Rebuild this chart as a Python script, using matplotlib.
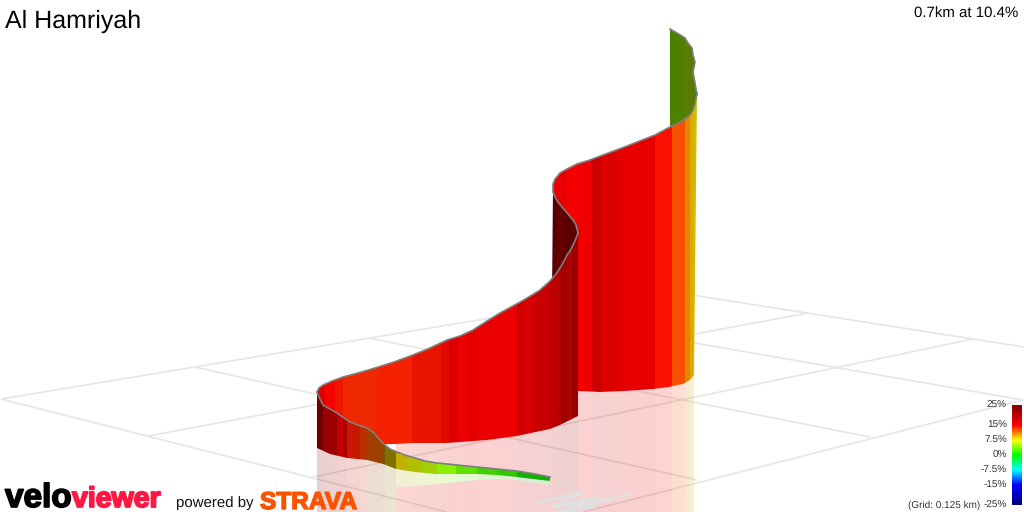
import matplotlib
matplotlib.use('Agg')
import matplotlib.pyplot as plt
import matplotlib.patheffects as pe
from matplotlib.patches import Polygon
from matplotlib.colors import LinearSegmentedColormap
import numpy as np

plt.rcParams['text.hinting'] = 'none'
plt.rcParams['text.hinting_factor'] = 1

title = 'Al Hamriyah'
summary = '0.7km at 10.4%'
grid_note = '(Grid: 0.125 km)'

# colour scale
scale_labels = ['25%', '15%', '7.5%', '0%', '-7.5%', '-15%', '-25%']
scale_values = [25, 15, 7.5, 0, -7.5, -15, -25]
scale_colors = ['#800000', '#ff0000', '#ffff00', '#00ff00', '#00ffff', '#0000ff', '#000080']

# ground grid, one (x0, y0, x1, y1) per line
grid_lines = [
    (1, 399, 660, 290), (148, 436, 808, 313), (313, 477, 973, 339), (583, 512, 1023, 400),
    (1, 399, 447, 512), (195, 367, 697, 480), (368, 338, 870, 437), (522, 313, 1023, 400),
    (660, 290, 1024, 347),
]

# route shadow on the ground
route_x = [536, 583, 552, 598, 562, 612, 572, 595, 556, 630]
route_y = [503, 492, 507, 497, 505, 499, 507, 507, 512, 494]

# green part at the back
back_x = [670, 677, 685, 688, 692, 693, 695, 693, 695, 697]
back_y = [29, 33, 38, 43, 48, 55, 62, 72, 83, 95]
back_edges = [670, 685, 688, 693, 698]
back_colors = ['#4e8000', '#5f7c00', '#5a7a00', '#468000']

# long red sheet on the right
right_top_x = [553, 553, 555, 560, 567, 577, 590, 603, 627, 655, 670, 679, 685, 690, 693, 695, 697]
right_top_y = [188, 184, 179, 173, 169, 164, 160, 155, 146, 135, 127, 123, 119, 115, 110, 104, 93]
right_base_x = [578, 600, 625, 653, 669, 683, 690, 694]
right_base_y = [391, 392, 391, 389, 387, 384, 380, 375]
right_edges = [553, 556, 567, 578, 592, 602, 607, 614, 626, 655, 672, 685, 690, 693, 698]
right_colors = ['#e80000', '#e80000', '#f80000', '#f00000', '#cc0000', '#e00000', '#d80000', '#e00000',
                '#e80000', '#fc1000', '#f85000', '#e08800', '#e0a800', '#c8c000']

# dark inside of the bend
bend_x = [553, 553, 555, 558, 562, 568, 573, 576, 578]
bend_y = [188, 192, 197, 202, 207, 214, 220, 225, 233]
bend_edges = [552, 558, 563, 572, 579]
bend_colors = ['#5a0000', '#660000', '#5a0000', '#600000']

# middle sheet, left turn to the bend
mid_top_x = [317, 319, 323, 332, 343, 358, 375, 394, 413, 430, 447, 460, 473, 487, 500, 511, 522, 532, 540, 550,
             556, 560, 564, 567, 570, 572, 575, 578]
mid_top_y = [392, 388, 385, 381, 377, 373, 368, 362, 355, 348, 340, 336, 330, 321, 313, 307, 301, 295, 290, 281,
             274, 268, 261, 255, 251, 247, 241, 233]
mid_base_x = [396, 413, 447, 487, 517, 550, 560, 578]
mid_base_y = [444, 443, 443, 440, 436, 429, 425, 416]
mid_edges = [317, 325, 335, 343, 377, 412, 441, 449, 458, 468, 476, 485, 517, 523, 533, 550, 555, 561, 567,
             572, 579]
mid_colors = ['#e00000', '#f80000', '#f01500', '#f02800', '#f42000', '#e81400', '#e00a00', '#dc0000',
              '#ec0000', '#e20000', '#ea0000', '#ea0000', '#d00000', '#d80000', '#c80000', '#c00000',
              '#b80000', '#a00000', '#b00000', '#9a0000']

# front sheet, left turn down to the end of the green ribbon
front_top_x = [317, 319, 323, 330, 337, 344, 350, 358, 367, 374, 380, 385, 390, 397, 405, 415, 425, 437, 457, 477,
               497, 517, 535, 550]
front_top_y = [392, 397, 405, 409, 413, 418, 422, 425, 428, 433, 440, 445, 449, 452, 455, 458, 461, 463, 465, 467,
               469, 471, 474, 477]
front_base_x = [317, 330, 347, 367, 383, 396, 415, 437, 457, 477, 497, 517, 550]
front_base_y = [448, 454, 458, 460, 464, 469, 472, 474, 474, 474, 475, 477, 481]
front_edges = [317, 323, 337, 343, 347, 360, 367, 382, 385, 396, 407, 421, 437, 456, 477, 497, 517, 551]
front_colors = ['#700000', '#9a0000', '#c00000', '#a80000', '#c81800', '#b83000', '#a04000', '#805000',
                '#807000', '#c0b000', '#b0c000', '#a0d000', '#88f000', '#60e000', '#40d000', '#30c800',
                '#10b000']

# lower edge of the ribbon's reflection
ribbon_refl_x = [396, 415, 437, 457, 477, 497, 517, 550]
ribbon_refl_y = [487, 486, 484, 482, 480, 479, 480, 485]

fig = plt.figure(figsize=(10.24, 5.12), dpi=100)
ax = fig.add_axes([0, 0, 1, 1])
ax.set_xlim(0, 1024)
ax.set_ylim(512, 0)
ax.axis('off')

SANS = ['Liberation Sans', 'DejaVu Sans']


def sheet(edges, colors, px, py, zorder, alpha=1.0):
    # vertical colour bands, cut to the outline of the sheet
    clip = Polygon(np.column_stack([px, py]), closed=True, transform=ax.transData)
    bars = ax.bar(edges[:-1], 512, width=np.diff(edges), bottom=0, align='edge', color=colors,
                  linewidth=0, alpha=alpha, zorder=zorder, antialiased=False)
    for b in bars:
        b.set_clip_path(clip)


for x0, y0, x1, y1 in grid_lines:
    ax.plot([x0, x1], [y0, y1], color='#e6e6e6', lw=1.2, zorder=0.5, solid_capstyle='butt')

# reflections under the sheets
REFL = 0.18
sheet(right_edges, right_colors, right_base_x + [694, 578], right_base_y + [512, 512], 1, REFL)
sheet(mid_edges, mid_colors, mid_base_x + [578, 396], mid_base_y + [512, 512], 1, REFL)
sheet(front_edges, front_colors, front_base_x[:6] + [396, 317], front_base_y[:6] + [512, 512], 1, REFL)
ax.plot(route_x, route_y, color='#e0e0e0', lw=2, zorder=1.5)
ax.fill(ribbon_refl_x + front_base_x[:4:-1], ribbon_refl_y + front_base_y[:4:-1], color='white', lw=0, zorder=5.4)
sheet(front_edges, front_colors, ribbon_refl_x + front_base_x[:4:-1], ribbon_refl_y + front_base_y[:4:-1], 5.5, REFL)

# the sheets, far to near
sheet(back_edges, back_colors, back_x + [690, 670], back_y + [140, 140], 2)
sheet(right_edges, right_colors, right_top_x + right_base_x[::-1] + [553],
      right_top_y + right_base_y[::-1] + [392], 3)
sheet(bend_edges, bend_colors, bend_x + [578, 552], bend_y + [295, 295], 4)
sheet(mid_edges, mid_colors, mid_top_x + mid_base_x[::-1] + [317], mid_top_y + mid_base_y[::-1] + [446], 5)
sheet(front_edges, front_colors, front_top_x + front_base_x[::-1], front_top_y + front_base_y[::-1], 6)

# grey line along the top of the ribbon
for tx, ty in [(back_x, back_y), (right_top_x, right_top_y), (bend_x, bend_y), (mid_top_x, mid_top_y),
               (front_top_x, front_top_y)]:
    ax.plot(tx, ty, color='#7f7f7f', lw=1.2, zorder=7, solid_joinstyle='round')

# colour bar
cmap = LinearSegmentedColormap.from_list('grade', [((v + 25) / 50, c) for v, c in zip(scale_values[::-1], scale_colors[::-1])])
ax.imshow(np.linspace(25, -25, 200)[:, None], extent=(1012, 1022, 505, 405), cmap=cmap, vmin=-25, vmax=25,
          aspect='auto', zorder=8)
ax.set_xlim(0, 1024)
ax.set_ylim(512, 0)
for lab, v in zip(scale_labels, scale_values):
    ax.text(1007, 455 - v * 2, lab, ha='right', va='center', fontsize=7.2, color='#333333', family=SANS, zorder=9)
ax.text(980, 505, grid_note, ha='right', va='center', fontsize=7.2, color='#333333', family=SANS, zorder=9)

# headings
ax.text(5, 28, title, fontsize=17.9, color='black', family=SANS, va='baseline', zorder=9)
ax.text(1018, 18, summary, fontsize=10.6, color='black', family=SANS, ha='right', va='baseline', zorder=9)

# logos
ax.text(5, 507, 'velo', fontsize=24, fontweight='bold', color='black', family=SANS, va='baseline', zorder=9,
        path_effects=[pe.withStroke(linewidth=1.2, foreground='black')])
ax.text(72, 507, 'viewer', fontsize=20.5, fontweight='bold', color='#ff1744', family=SANS, va='baseline', zorder=9,
        path_effects=[pe.withStroke(linewidth=1.3, foreground='#ff1744')])
ax.text(176, 507, 'powered by', fontsize=11, color='#111111', family=SANS, va='baseline', zorder=9)
ax.text(260, 509, 'STRAVA', fontsize=17.6, fontweight='bold', color='#fc5200', family=SANS, va='baseline', zorder=9,
        path_effects=[pe.withStroke(linewidth=1.0, foreground='#fc5200')])

fig.savefig('out.png', dpi=100)
